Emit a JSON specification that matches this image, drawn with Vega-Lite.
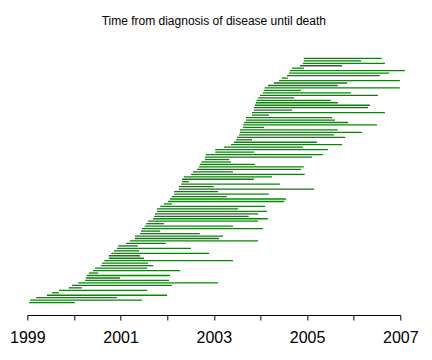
{
  "$schema": "https://vega.github.io/schema/vega-lite/v6.json",
  "width": 373,
  "height": 269,
  "autosize": "none",
  "padding": {"left": 27.3, "top": 46, "right": 31.7, "bottom": 45},
  "background": "white",
  "title": {"text": "Time from diagnosis of disease until death", "fontSize": 12, "font": "Liberation Sans", "fontWeight": "normal", "offset": 18, "anchor": "middle", "color": "black"},
  "config": {"view": {"stroke": null}},
  "data": {"values": [
    {"i":1,"s":2004.93,"e":2006.60,"c":"g"},
    {"i":2,"s":2004.93,"e":2006.16,"c":"d"},
    {"i":3,"s":2004.91,"e":2006.67,"c":"g"},
    {"i":4,"s":2004.85,"e":2005.75,"c":"d"},
    {"i":5,"s":2004.68,"e":2004.93,"c":"g"},
    {"i":6,"s":2004.63,"e":2007.10,"c":"g"},
    {"i":7,"s":2004.61,"e":2006.76,"c":"g"},
    {"i":8,"s":2004.57,"e":2006.56,"c":"d"},
    {"i":9,"s":2004.46,"e":2004.59,"c":"g"},
    {"i":10,"s":2004.40,"e":2006.99,"c":"g"},
    {"i":11,"s":2004.29,"e":2005.86,"c":"d"},
    {"i":12,"s":2004.16,"e":2005.66,"c":"d"},
    {"i":13,"s":2004.09,"e":2006.99,"c":"g"},
    {"i":14,"s":2004.07,"e":2004.87,"c":"g"},
    {"i":15,"s":2004.05,"e":2005.94,"c":"g"},
    {"i":16,"s":2003.99,"e":2006.52,"c":"d"},
    {"i":17,"s":2003.95,"e":2004.72,"c":"d"},
    {"i":18,"s":2003.92,"e":2005.51,"c":"g"},
    {"i":19,"s":2003.90,"e":2005.66,"c":"g"},
    {"i":20,"s":2003.88,"e":2006.35,"c":"g"},
    {"i":21,"s":2003.86,"e":2006.31,"c":"d"},
    {"i":22,"s":2003.86,"e":2004.68,"c":"d"},
    {"i":23,"s":2003.82,"e":2006.67,"c":"g"},
    {"i":24,"s":2003.82,"e":2004.18,"c":"d"},
    {"i":25,"s":2003.69,"e":2005.54,"c":"g"},
    {"i":26,"s":2003.69,"e":2005.60,"c":"d"},
    {"i":27,"s":2003.65,"e":2005.88,"c":"g"},
    {"i":28,"s":2003.63,"e":2006.50,"c":"g"},
    {"i":29,"s":2003.63,"e":2004.08,"c":"d"},
    {"i":30,"s":2003.56,"e":2005.66,"c":"g"},
    {"i":31,"s":2003.56,"e":2006.18,"c":"g"},
    {"i":32,"s":2003.54,"e":2005.58,"c":"d"},
    {"i":33,"s":2003.50,"e":2005.82,"c":"d"},
    {"i":34,"s":2003.48,"e":2003.82,"c":"d"},
    {"i":35,"s":2003.43,"e":2005.21,"c":"g"},
    {"i":36,"s":2003.37,"e":2005.75,"c":"g"},
    {"i":37,"s":2003.22,"e":2004.91,"c":"d"},
    {"i":38,"s":2003.03,"e":2005.45,"c":"g"},
    {"i":39,"s":2003.03,"e":2003.86,"c":"g"},
    {"i":40,"s":2002.83,"e":2005.34,"c":"g"},
    {"i":41,"s":2002.81,"e":2005.11,"c":"d"},
    {"i":42,"s":2002.81,"e":2003.33,"c":"d"},
    {"i":43,"s":2002.73,"e":2003.37,"c":"g"},
    {"i":44,"s":2002.70,"e":2003.88,"c":"g"},
    {"i":45,"s":2002.68,"e":2004.93,"c":"g"},
    {"i":46,"s":2002.64,"e":2004.87,"c":"d"},
    {"i":47,"s":2002.55,"e":2003.41,"c":"d"},
    {"i":48,"s":2002.51,"e":2004.95,"c":"g"},
    {"i":49,"s":2002.36,"e":2004.25,"c":"g"},
    {"i":50,"s":2002.32,"e":2003.86,"c":"d"},
    {"i":51,"s":2002.32,"e":2002.47,"c":"d"},
    {"i":52,"s":2002.30,"e":2004.42,"c":"g"},
    {"i":53,"s":2002.25,"e":2003.00,"c":"d"},
    {"i":54,"s":2002.25,"e":2005.15,"c":"d"},
    {"i":55,"s":2002.15,"e":2003.09,"c":"d"},
    {"i":56,"s":2002.15,"e":2004.18,"c":"g"},
    {"i":57,"s":2002.10,"e":2003.28,"c":"d"},
    {"i":58,"s":2002.06,"e":2004.55,"c":"g"},
    {"i":59,"s":2002.02,"e":2004.51,"c":"g"},
    {"i":60,"s":2001.93,"e":2002.10,"c":"g"},
    {"i":61,"s":2001.85,"e":2004.10,"c":"g"},
    {"i":62,"s":2001.78,"e":2003.52,"c":"d"},
    {"i":63,"s":2001.78,"e":2004.14,"c":"g"},
    {"i":64,"s":2001.74,"e":2003.95,"c":"d"},
    {"i":65,"s":2001.72,"e":2003.75,"c":"d"},
    {"i":66,"s":2001.70,"e":2004.16,"c":"g"},
    {"i":67,"s":2001.59,"e":2003.95,"c":"g"},
    {"i":68,"s":2001.55,"e":2001.93,"c":"d"},
    {"i":69,"s":2001.52,"e":2003.41,"c":"g"},
    {"i":70,"s":2001.46,"e":2004.05,"c":"g"},
    {"i":71,"s":2001.44,"e":2001.85,"c":"d"},
    {"i":72,"s":2001.42,"e":2002.70,"c":"d"},
    {"i":73,"s":2001.31,"e":2003.20,"c":"g"},
    {"i":74,"s":2001.31,"e":2003.11,"c":"d"},
    {"i":75,"s":2001.20,"e":2003.95,"c":"g"},
    {"i":76,"s":2001.12,"e":2001.97,"c":"d"},
    {"i":77,"s":2000.95,"e":2001.37,"c":"d"},
    {"i":78,"s":2000.92,"e":2002.51,"c":"g"},
    {"i":79,"s":2000.86,"e":2001.40,"c":"d"},
    {"i":80,"s":2000.80,"e":2002.90,"c":"g"},
    {"i":81,"s":2000.75,"e":2001.42,"c":"d"},
    {"i":82,"s":2000.75,"e":2001.50,"c":"g"},
    {"i":83,"s":2000.65,"e":2003.41,"c":"g"},
    {"i":84,"s":2000.60,"e":2001.59,"c":"g"},
    {"i":85,"s":2000.58,"e":2001.70,"c":"d"},
    {"i":86,"s":2000.45,"e":2001.57,"c":"g"},
    {"i":87,"s":2000.41,"e":2002.28,"c":"g"},
    {"i":88,"s":2000.32,"e":2000.52,"c":"d"},
    {"i":89,"s":2000.28,"e":2002.06,"c":"g"},
    {"i":90,"s":2000.26,"e":2000.99,"c":"d"},
    {"i":91,"s":2000.24,"e":2002.04,"c":"g"},
    {"i":92,"s":2000.09,"e":2003.09,"c":"g"},
    {"i":93,"s":1999.96,"e":2002.10,"c":"d"},
    {"i":94,"s":1999.89,"e":2000.17,"c":"d"},
    {"i":95,"s":1999.68,"e":2001.57,"c":"g"},
    {"i":96,"s":1999.53,"e":1999.68,"c":"g"},
    {"i":97,"s":1999.42,"e":2002.00,"c":"g"},
    {"i":98,"s":1999.19,"e":2000.92,"c":"d"},
    {"i":99,"s":1999.06,"e":2001.46,"c":"g"},
    {"i":100,"s":1999.04,"e":2000.02,"c":"g"}
  ]},
  "mark": {"type": "rule", "strokeWidth": 1.3},
  "encoding": {
    "y": {"field": "i", "type": "quantitative", "scale": {"domain": [-4, 105], "reverse": true, "nice": false, "zero": false}, "axis": null},
    "x": {"field": "s", "type": "quantitative", "scale": {"domain": [1999, 2007], "nice": false, "zero": false},
      "axis": {"values": [1999, 2000, 2001, 2002, 2003, 2004, 2005, 2006, 2007], "labelExpr": "datum.value % 2 == 1 ? format(datum.value, 'd') : ''", "grid": false, "title": null, "tickSize": 5, "tickColor": "black", "domainColor": "black", "labelColor": "black", "labelFont": "Liberation Sans", "labelFontSize": 16, "labelPadding": 9, "labelFlush": false, "labelOverlap": false}},
    "x2": {"field": "e"},
    "color": {"field": "c", "type": "nominal", "scale": {"domain": ["g", "d"], "range": ["#008B00", "#236B23"]}, "legend": null}
  }
}
